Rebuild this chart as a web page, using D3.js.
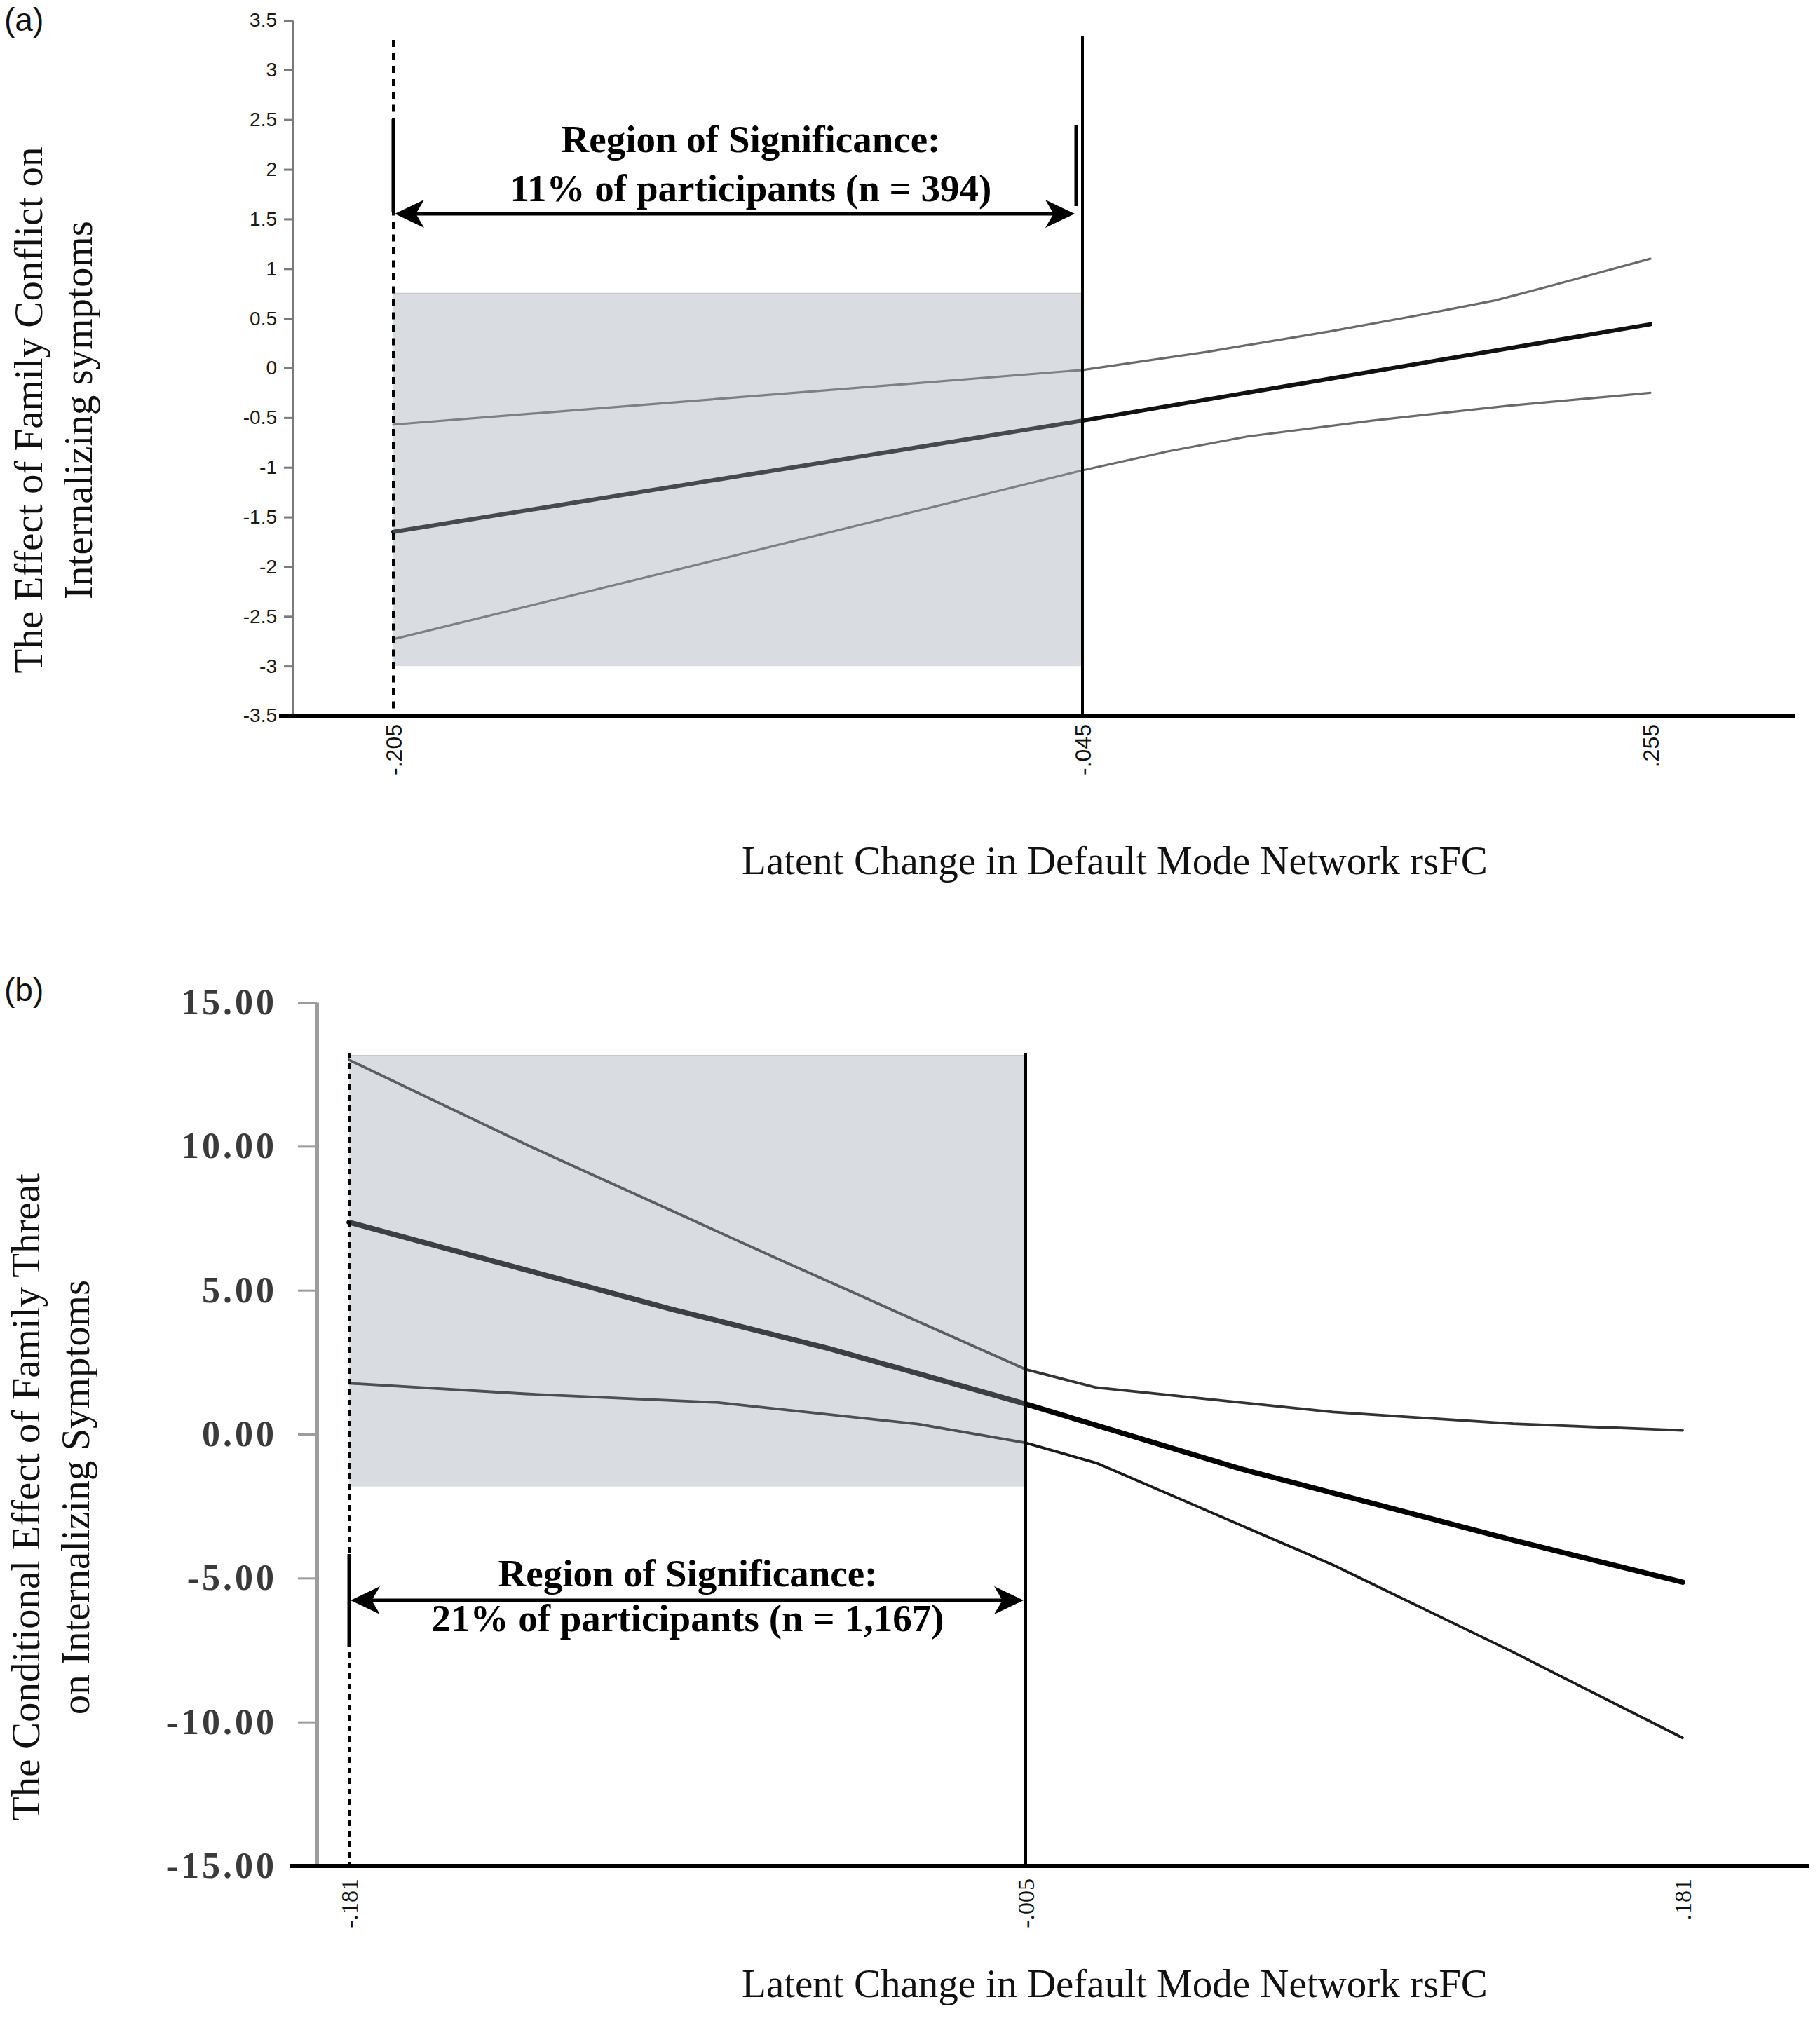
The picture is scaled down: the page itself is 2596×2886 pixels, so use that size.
<!DOCTYPE html>
<html>
<head>
<meta charset="utf-8">
<script src="https://cdn.jsdelivr.net/npm/d3@7"></script>
<style>
  html, body { margin: 0; padding: 0; background: #fff; }
  svg { display: block; }
</style>
</head>
<body>
<script>
// ---------------- DATA ----------------
// Panel (a)
const aXTicks = [-0.205, -0.045, 0.255];
const aXTickLabels = ["-.205", "-.045", ".255"];
const aYTicks = [3.5, 3, 2.5, 2, 1.5, 1, 0.5, 0, -0.5, -1, -1.5, -2, -2.5, -3, -3.5];
const aYTickLabels = ["3.5", "3", "2.5", "2", "1.5", "1", "0.5", "0", "-0.5", "-1", "-1.5", "-2", "-2.5", "-3", "-3.5"];
const aUpper  = [[-0.205, -0.57], [-0.045, -0.02], [0.020, 0.16], [0.086, 0.37], [0.135, 0.54], [0.173, 0.68], [0.201, 0.82], [0.255, 1.10]];
const aEffect = [[-0.205, -1.65], [-0.045, -0.53], [0.255, 0.44]];
const aLower  = [[-0.205, -2.73], [-0.045, -1.03], [0.000, -0.84], [0.042, -0.69], [0.108, -0.53], [0.180, -0.38], [0.255, -0.25]];
const aRegionX = [-0.205, -0.045];
const aRegionY = [0.75, -3.0];
const aRegionText = ["Region of Significance:", "11% of participants (n = 394)"];
const aYTitle = ["The Effect of Family Conflict on", "Internalizing symptoms"];

// Panel (b)
const bXTicks = [-0.181, -0.005, 0.181];
const bXTickLabels = ["-.181", "-.005", ".181"];
const bYTicks = [15, 10, 5, 0, -5, -10, -15];
const bYTickLabels = ["15.00", "10.00", "5.00", "0.00", "-5.00", "-10.00", "-15.00"];
const bUpper  = [[-0.181, 13.0], [-0.134, 10.0], [-0.068, 6.0], [-0.005, 2.25], [0.015, 1.62], [0.082, 0.77], [0.133, 0.36], [0.181, 0.13]];
const bEffect = [[-0.181, 7.36], [-0.097, 4.34], [-0.056, 2.97], [-0.005, 1.05], [0.056, -1.21], [0.133, -3.68], [0.181, -5.14]];
const bLower  = [[-0.181, 1.77], [-0.135, 1.40], [-0.085, 1.10], [-0.033, 0.35], [-0.005, -0.30], [0.015, -1.0], [0.082, -4.54], [0.133, -7.57], [0.181, -10.55]];
const bRegionX = [-0.181, -0.005];
const bRegionY = [13.15, -1.82];
const bRegionText = ["Region of Significance:", "21% of participants (n = 1,167)"];
const bYTitle = ["The Conditional Effect of Family Threat", "on Internalizing Symptoms"];

const xTitle = "Latent Change in Default Mode Network rsFC";

// ---------------- DRAW ----------------
const W = 2596, H = 2886;
const svg = d3.select("body").append("svg").attr("width", W).attr("height", H);
svg.append("rect").attr("width", W).attr("height", H).attr("fill", "#fff");

const SERIF = "'Liberation Serif', 'Times New Roman', serif";
const SANS = "'Liberation Sans', Arial, sans-serif";

function arrowHead(g, tipX, y, dir) {
  const L = 42, h = 20;
  const p = d3.path();
  p.moveTo(tipX, y);
  p.lineTo(tipX - dir * L, y - h);
  p.lineTo(tipX - dir * L * 0.72, y);
  p.lineTo(tipX - dir * L, y + h);
  p.closePath();
  g.append("path").attr("d", p.toString()).attr("fill", "#000");
}

function panel(cfg) {
  const g = svg.append("g");
  const x = d3.scaleLinear().domain(cfg.xTicks).range(cfg.xRange);
  const y = d3.scaleLinear().domain([cfg.yTicks[cfg.yTicks.length - 1], cfg.yTicks[0]]).range(cfg.yRange);

  // Y axis
  const yAxis = d3.axisLeft(y).tickValues(cfg.yTicks)
    .tickFormat((d, i) => cfg.yTickLabels[i])
    .tickSize(cfg.yTickSize).tickSizeOuter(0).tickPadding(cfg.yTickPad);
  const ya = g.append("g").attr("transform", `translate(${cfg.yAxisX},0)`).call(yAxis);
  ya.select(".domain").attr("stroke", cfg.yAxisColor).attr("stroke-width", cfg.yAxisWidth);
  ya.selectAll(".tick line").attr("stroke", cfg.yAxisColor).attr("stroke-width", cfg.yTickWidth);
  ya.selectAll(".tick text")
    .attr("font-family", cfg.yTickFont).attr("font-size", cfg.yTickFontSize)
    .attr("font-weight", cfg.yTickWeight || "normal")
    .attr("fill", cfg.yTickColor).attr("letter-spacing", cfg.yTickSpacing || 0);

  // X axis labels
  const baseY = y(cfg.yTicks[cfg.yTicks.length - 1]);
  const xAxis = d3.axisBottom(x).tickValues(cfg.xTicks)
    .tickFormat((d, i) => cfg.xTickLabels[i]).tickSize(0).tickSizeOuter(0);
  const xa = g.append("g").attr("transform", `translate(0,${baseY})`).call(xAxis);
  xa.select(".domain").remove();
  xa.selectAll(".tick text")
    .attr("transform", "rotate(-90)")
    .attr("x", -cfg.xLabelGap).attr("y", 0).attr("dy", "0.35em")
    .attr("text-anchor", "end")
    .attr("font-family", cfg.xTickFont).attr("font-size", cfg.xTickFontSize)
    .attr("fill", "#111");

  // Lines
  const line = d3.line().x(d => x(d[0])).y(d => y(d[1])).curve(d3.curveLinear);
  g.append("path").datum(cfg.upper).attr("d", line).attr("fill", "none")
    .attr("stroke", cfg.ciColorUpper).attr("stroke-width", cfg.ciWidth)
    .attr("stroke-linecap", "round").attr("stroke-linejoin", "round");
  g.append("path").datum(cfg.lower).attr("d", line).attr("fill", "none")
    .attr("stroke", cfg.ciColorLower).attr("stroke-width", cfg.ciWidth)
    .attr("stroke-linecap", "round").attr("stroke-linejoin", "round");
  g.append("path").datum(cfg.effect).attr("d", line).attr("fill", "none")
    .attr("stroke", cfg.effColor).attr("stroke-width", cfg.effWidth)
    .attr("stroke-linecap", "round").attr("stroke-linejoin", "round");

  // Region of significance shading (translucent overlay)
  g.append("rect")
    .attr("x", x(cfg.regionX[0])).attr("y", y(cfg.regionY[0]))
    .attr("width", x(cfg.regionX[1]) - x(cfg.regionX[0]))
    .attr("height", y(cfg.regionY[1]) - y(cfg.regionY[0]))
    .attr("fill", "rgb(156,164,174)").attr("fill-opacity", 0.384);
  g.append("line")
    .attr("x1", x(cfg.regionX[0])).attr("x2", x(cfg.regionX[1]))
    .attr("y1", y(cfg.regionY[0])).attr("y2", y(cfg.regionY[0]))
    .attr("stroke", "#c9c9c9").attr("stroke-width", 2);

  // X axis line
  g.append("line").attr("x1", cfg.xAxisStart).attr("x2", cfg.xAxisEnd)
    .attr("y1", baseY).attr("y2", baseY).attr("stroke", "#000").attr("stroke-width", 6);

  // Dashed boundary and solid Johnson-Neyman boundary
  g.append("line").attr("x1", x(cfg.regionX[0])).attr("x2", x(cfg.regionX[0]))
    .attr("y1", cfg.dashTop).attr("y2", baseY)
    .attr("stroke", "#000").attr("stroke-width", 4).attr("stroke-dasharray", cfg.dash);
  g.append("line").attr("x1", x(cfg.regionX[1])).attr("x2", x(cfg.regionX[1]))
    .attr("y1", cfg.solidTop).attr("y2", baseY)
    .attr("stroke", "#000").attr("stroke-width", 4);

  // Arrow
  const ay = cfg.arrowY;
  const leftX = x(cfg.regionX[0]) + 2;
  const rightX = x(cfg.regionX[1]) - cfg.rightTipGap;
  g.append("line").attr("x1", leftX + 20).attr("x2", rightX - 20).attr("y1", ay).attr("y2", ay)
    .attr("stroke", "#000").attr("stroke-width", 5);
  arrowHead(g, leftX, ay, -1);
  arrowHead(g, rightX, ay, 1);
  g.append("line").attr("x1", x(cfg.regionX[0])).attr("x2", x(cfg.regionX[0]))
    .attr("y1", cfg.leftBar[0]).attr("y2", cfg.leftBar[1]).attr("stroke", "#000").attr("stroke-width", 5);
  if (cfg.rightBar) {
    g.append("line").attr("x1", x(cfg.regionX[1]) - 9).attr("x2", x(cfg.regionX[1]) - 9)
      .attr("y1", cfg.rightBar[0]).attr("y2", cfg.rightBar[1]).attr("stroke", "#000").attr("stroke-width", 5);
  }

  // Region text
  cfg.regionText.forEach((t, i) => {
    g.append("text").attr("x", cfg.textX).attr("y", cfg.textY[i])
      .attr("text-anchor", "middle").attr("font-family", SERIF).attr("font-weight", "bold")
      .attr("font-size", 55).attr("fill", "#000").text(t);
  });

  // Y title
  cfg.yTitle.forEach((t, i) => {
    g.append("text").attr("transform", `translate(${cfg.yTitleX[i]},${cfg.yTitleY}) rotate(-90)`)
      .attr("text-anchor", "middle").attr("dy", "0.33em")
      .attr("font-family", SERIF).attr("font-size", 57).attr("fill", "#111").text(t);
  });

  // X title
  g.append("text").attr("x", 1590).attr("y", cfg.xTitleY).attr("text-anchor", "middle")
    .attr("font-family", SERIF).attr("font-size", 57).attr("fill", "#111").text(xTitle);

  // Panel label
  g.append("text").attr("x", 6).attr("y", cfg.labelY).attr("font-family", SANS)
    .attr("font-size", 46).attr("fill", "#111").text(cfg.label);
}

panel({
  label: "(a)", labelY: 44,
  xTicks: aXTicks, xTickLabels: aXTickLabels, xRange: [561, 1544, 2354],
  yTicks: aYTicks, yTickLabels: aYTickLabels, yRange: [1021, 29],
  yAxisX: 418, yAxisColor: "#7a7a7a", yAxisWidth: 3, yTickSize: 13, yTickWidth: 3, yTickPad: 10,
  yTickFont: SANS, yTickFontSize: 28, yTickColor: "#1a1a1a",
  xTickFont: SANS, xTickFontSize: 32, xLabelGap: 12,
  xAxisStart: 398, xAxisEnd: 2560,
  upper: aUpper, lower: aLower, effect: aEffect,
  ciColorUpper: "#6a6a6a", ciColorLower: "#6a6a6a", ciWidth: 3.2, effColor: "#111", effWidth: 6,
  regionX: aRegionX, regionY: aRegionY,
  dash: "10,8.5", dashTop: 57, solidTop: 51,
  arrowY: 305, rightTipGap: 11, leftBar: [170, 302], rightBar: [178, 294],
  regionText: aRegionText, textX: 1071, textY: [217, 287],
  yTitle: aYTitle, yTitleX: [41, 112], yTitleY: 585, xTitleY: 1247
});

panel({
  label: "(b)", labelY: 1428,
  xTicks: bXTicks, xTickLabels: bXTickLabels, xRange: [498, 1463, 2400],
  yTicks: bYTicks, yTickLabels: bYTickLabels, yRange: [2662, 1430],
  yAxisX: 452, yAxisColor: "#9c9c9c", yAxisWidth: 5, yTickSize: 27, yTickWidth: 3, yTickPad: 30,
  yTickFont: SERIF, yTickFontSize: 52, yTickColor: "#3a3a3a", yTickSpacing: 4, yTickWeight: "bold",
  xTickFont: SERIF, xTickFontSize: 34, xLabelGap: 18,
  xAxisStart: 414, xAxisEnd: 2581,
  upper: bUpper, lower: bLower, effect: bEffect,
  ciColorUpper: "#333", ciColorLower: "#1a1a1a", ciWidth: 3.8, effColor: "#000", effWidth: 7.5,
  regionX: bRegionX, regionY: bRegionY,
  dash: "8,7", dashTop: 1502, solidTop: 1502,
  arrowY: 2283, rightTipGap: 3, leftBar: [2217, 2350], rightBar: null,
  regionText: bRegionText, textX: 981, textY: [2263, 2327],
  yTitle: bYTitle, yTitleX: [37, 108], yTitleY: 2136, xTitleY: 2849
});
</script>
</body>
</html>
